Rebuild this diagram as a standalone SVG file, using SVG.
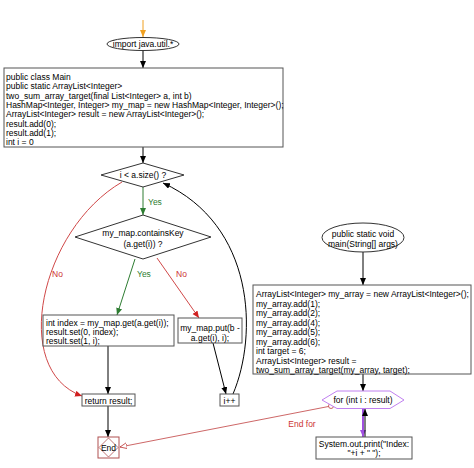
<svg xmlns="http://www.w3.org/2000/svg" width="474" height="468" viewBox="0 0 474 468">
<style>
text{font-family:"Liberation Sans",Arial,sans-serif;font-size:8.5px;fill:#000}
.c{text-anchor:middle}
.box{fill:#fff;stroke:#555;stroke-width:1}
.node{fill:#fff;stroke:#333;stroke-width:1}
.k{fill:none;stroke:#000;stroke-width:1}
.g{fill:none;stroke:#2e7d32;stroke-width:1}
.r{fill:none;stroke:#d04848;stroke-width:1}
.yes{fill:#2e7d32}
.no{fill:#cc3333}
</style>
<defs>
<marker id="ak" markerWidth="8" markerHeight="8" refX="7" refY="3" orient="auto" markerUnits="userSpaceOnUse"><path d="M0,0 L7,3 L0,6 z" fill="#000"/></marker>
<marker id="ag" markerWidth="8" markerHeight="8" refX="7" refY="3" orient="auto" markerUnits="userSpaceOnUse"><path d="M0,0 L7,3 L0,6 z" fill="#2e7d32"/></marker>
<marker id="ar" markerWidth="8" markerHeight="8" refX="7" refY="3" orient="auto" markerUnits="userSpaceOnUse"><path d="M0,0 L7,3 L0,6 z" fill="#d02020"/></marker>
<marker id="ao" markerWidth="8" markerHeight="8" refX="7" refY="3" orient="auto" markerUnits="userSpaceOnUse"><path d="M0,0 L7,3 L0,6 z" fill="#f0a020"/></marker>
<marker id="ap" markerWidth="8" markerHeight="8" refX="7" refY="3" orient="auto" markerUnits="userSpaceOnUse"><path d="M0,0 L7,3 L0,6 z" fill="#a050e0"/></marker>
<marker id="aho" markerWidth="9" markerHeight="8" refX="7" refY="3" orient="auto" markerUnits="userSpaceOnUse"><path d="M0,0 L7,3 L0,6 z" fill="#fff" stroke="#c04040" stroke-width="0.8"/></marker>
</defs>

<g id="connectors">
<line x1="143" y1="20" x2="143" y2="37" stroke="#f0a020" stroke-width="1" marker-end="url(#ao)"/>
<line class="k" x1="143" y1="50" x2="143" y2="68" marker-end="url(#ak)"/>
<line class="k" x1="143" y1="147" x2="143" y2="163" marker-end="url(#ak)"/>
<line class="g" x1="143" y1="187" x2="143" y2="215" marker-end="url(#ag)"/>
<line class="g" x1="135" y1="259" x2="117" y2="315" marker-end="url(#ag)"/>
<line class="r" x1="157" y1="258" x2="199" y2="318" marker-end="url(#ar)"/>
<path class="r" d="M122,182 C40,230 10,370 82,396" marker-end="url(#ar)"/>
<line class="k" x1="108" y1="346" x2="108" y2="394" marker-end="url(#ak)"/>
<line class="k" x1="108" y1="406" x2="108" y2="437" marker-end="url(#ak)"/>
<line class="k" x1="213" y1="343" x2="226" y2="394" marker-end="url(#ak)"/>
<path class="k" d="M233,394 C258,335 255,225 163,183" marker-end="url(#ak)"/>
<line class="k" x1="363" y1="252" x2="363" y2="285" marker-end="url(#ak)"/>
<line class="k" x1="363" y1="374" x2="363" y2="391" marker-end="url(#ak)"/>
<line x1="363" y1="409" x2="363" y2="437" stroke="#a050e0" stroke-width="2" marker-end="url(#ap)"/>
<line class="k" x1="365" y1="437" x2="365" y2="409" marker-end="url(#ak)"/>
<line x1="331" y1="406" x2="120" y2="447" stroke="#c04040" stroke-width="0.8" marker-end="url(#aho)"/>
<circle cx="331" cy="406" r="2.5" fill="#fff" stroke="#c04040" stroke-width="0.8"/>
<text class="yes" x="148" y="205">Yes</text>
<text class="yes" x="137" y="277">Yes</text>
<text class="no" x="52" y="277">No</text>
<text class="no" x="176" y="277">No</text>
<text class="no c" x="302" y="427">End for</text>
</g>

<g id="import">
<ellipse class="node" cx="143" cy="44" rx="36" ry="6.5"/>
<text class="c" x="143" y="47">import java.util.*</text>
</g>

<g id="mainclass">
<rect class="box" x="4" y="68" width="279" height="79"/>
<text x="6" y="80">public class Main</text>
<text x="6" y="89.3">public static ArrayList&lt;Integer&gt;</text>
<text x="6" y="98.6">two_sum_array_target(final List&lt;Integer&gt; a, int b)</text>
<text x="6" y="107.9">HashMap&lt;Integer, Integer&gt; my_map = new HashMap&lt;Integer, Integer&gt;();</text>
<text x="6" y="117.2">ArrayList&lt;Integer&gt; result = new ArrayList&lt;Integer&gt;();</text>
<text x="6" y="126.5">result.add(0);</text>
<text x="6" y="135.8">result.add(1);</text>
<text x="6" y="145">int i = 0</text>
</g>

<g id="cond1">
<polygon class="node" points="143,163 184,175 143,187 101,175"/>
<text class="c" x="143" y="178">i &lt; a.size() ?</text>
</g>

<g id="cond2">
<polygon class="node" points="143,215 211,237 143,259 75,237"/>
<text class="c" x="143" y="236">my_map.containsKey</text>
<text class="c" x="143" y="247">(a.get(i)) ?</text>
</g>

<g id="found">
<rect class="box" x="43" y="315" width="131" height="31"/>
<text x="46" y="326">int index = my_map.get(a.get(i));</text>
<text x="46" y="335">result.set(0, index);</text>
<text x="46" y="344">result.set(1, i);</text>
</g>

<g id="put">
<rect class="box" x="178" y="318" width="64" height="25"/>
<text class="c" x="210" y="331">my_map.put(b -</text>
<text class="c" x="210" y="341">a.get(i), i);</text>
</g>

<g id="ret">
<rect class="box" x="82" y="394" width="53" height="12"/>
<text class="c" x="108.5" y="403.5">return result;</text>
</g>

<g id="inc">
<rect class="box" x="220" y="394" width="19" height="12"/>
<text class="c" x="229.5" y="403.5">i++</text>
</g>

<g id="end">
<rect x="98" y="437" width="21" height="21" fill="#fff" stroke="#b05050" stroke-width="1"/>
<polygon points="108.5,438 118,447.5 108.5,457 99,447.5" fill="none" stroke="#b05050" stroke-width="0.8"/>
<text class="c" x="108.5" y="451">End</text>
</g>

<g id="mainmethod">
<ellipse class="node" cx="363" cy="237.5" rx="41" ry="14.5"/>
<text class="c" x="363" y="237">public static void</text>
<text class="c" x="363" y="247">main(String[] args)</text>
</g>

<g id="mainbody">
<rect class="box" x="253" y="285" width="218" height="89"/>
<text x="256" y="297">ArrayList&lt;Integer&gt; my_array = new ArrayList&lt;Integer&gt;();</text>
<text x="256" y="306.5">my_array.add(1);</text>
<text x="256" y="316">my_array.add(2);</text>
<text x="256" y="325.5">my_array.add(4);</text>
<text x="256" y="335">my_array.add(5);</text>
<text x="256" y="344.5">my_array.add(6);</text>
<text x="256" y="354">int target = 6;</text>
<text x="256" y="363.5">ArrayList&lt;Integer&gt; result =</text>
<text x="256" y="373">two_sum_array_target(my_array, target);</text>
</g>

<g id="loop">
<polygon points="322,400 337,391 390,391 404,400 390,408.5 337,408.5" fill="#fff" stroke="#c080f0" stroke-width="1"/>
<text class="c" x="363" y="403">for (int i : result)</text>
</g>

<g id="print">
<rect class="box" x="316" y="437" width="96" height="22"/>
<text class="c" x="364" y="447">System.out.print("Index:</text>
<text class="c" x="364" y="456">"+i + " ");</text>
</g>
</svg>
